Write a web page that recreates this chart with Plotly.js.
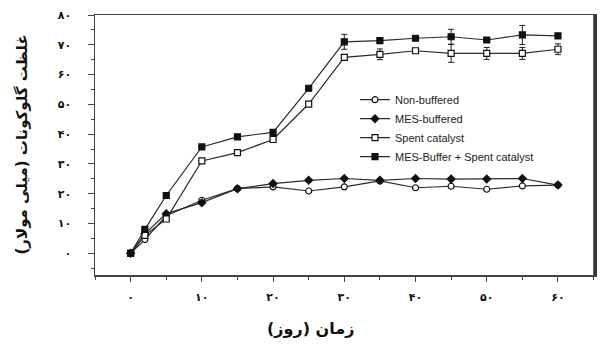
<!DOCTYPE html>
<html>
<head>
<meta charset="utf-8">
<script src="https://cdn.plot.ly/plotly-3.0.1.min.js"></script>
<style>
html,body{margin:0;padding:0;background:#fff;}
#chart{width:601px;height:351px;}
</style>
</head>
<body>
<div id="chart"></div>
<script>
// ---- data ----
const days = [0, 2, 5, 10, 15, 20, 25, 30, 35, 40, 45, 50, 55, 60];
const nonBuffered   = [0, 4.6, 12.6, 17.8, 21.7, 22.3, 20.9, 22.3, 24.3, 22.0, 22.5, 21.5, 22.6, 22.9];
const mesBuffered   = [0, 6.5, 13.3, 17.0, 21.7, 23.4, 24.5, 25.1, 24.5, 25.1, 24.9, 24.9, 25.1, 22.9];
const spentCatalyst = [0, 6.0, 11.5, 31.0, 33.8, 38.2, 50.1, 65.8, 66.8, 68.0, 67.1, 67.1, 67.1, 68.5];
const mesSpent      = [0, 8.0, 19.4, 35.7, 39.1, 40.6, 55.4, 71.0, 71.4, 72.2, 72.7, 71.6, 73.3, 73.0];
const spentErr      = [0, 0, 0, 0, 0, 0, 0, 0.8, 1.8, 0, 3.0, 2.0, 2.0, 1.8];
const mesSpentErr   = [0, 0, 0, 0, 0, 0, 0, 2.5, 0, 0, 2.5, 0, 3.2, 0];

const seriesNames = ["Non-buffered", "MES-buffered", "Spent catalyst", "MES-Buffer + Spent catalyst"];

const xTickVals = [0, 10, 20, 30, 40, 50, 60];
const xTickText = ["۰", "۱۰", "۲۰", "۳۰", "۴۰", "۵۰", "۶۰"];
const yTickVals = [0, 10, 20, 30, 40, 50, 60, 70, 80];
const yTickText = ["۰", "۱۰", "۲۰", "۳۰", "۴۰", "۵۰", "۶۰", "۷۰", "۸۰"];

const xTitle = "زمان (روز)";
const yTitle = "غلظت گلوکونات (میلی مولار)";

// ---- styles ----
const lineCol = "#2a2a2a";
const lineW = 1.2;
function mk(symbol, filled) {
  return {symbol: symbol, size: 6, color: filled ? "#111" : "#fff",
          line: {color: "#111", width: 1.2}};
}

const traces = [
  {x: days, y: nonBuffered, name: seriesNames[0], type: "scatter", mode: "lines+markers",
   line: {color: lineCol, width: lineW}, marker: mk("circle", false)},
  {x: days, y: mesBuffered, name: seriesNames[1], type: "scatter", mode: "lines+markers",
   line: {color: lineCol, width: lineW}, marker: mk("diamond", true)},
  {x: days, y: spentCatalyst, name: seriesNames[2], type: "scatter", mode: "lines+markers",
   line: {color: lineCol, width: lineW}, marker: mk("square", false),
   error_y: {type: "data", array: spentErr, visible: true, color: "#222", thickness: 1, width: 3}},
  {x: days, y: mesSpent, name: seriesNames[3], type: "scatter", mode: "lines+markers",
   line: {color: lineCol, width: lineW}, marker: mk("square", true),
   error_y: {type: "data", array: mesSpentErr, visible: true, color: "#222", thickness: 1, width: 3}}
];

const tickFont = {family: "DejaVu Sans", size: 11, color: "#111", weight: "bold"};

const layout = {
  width: 601, height: 351,
  margin: {l: 95, r: 6, t: 15, b: 76},
  paper_bgcolor: "#fff", plot_bgcolor: "#fff",
  showlegend: true,
  legend: {x: 0.52, y: 0.73, xanchor: "left", yanchor: "top",
           bgcolor: "rgba(0,0,0,0)", borderwidth: 0,
           font: {family: "Liberation Sans, Arial, sans-serif", size: 11, color: "#222"},
           tracegroupgap: 0},
  xaxis: {range: [-5, 65.2], showgrid: false, zeroline: false,
          showline: true, linecolor: "#444", linewidth: 1.5, mirror: true,
          tickmode: "array", tickvals: xTickVals, ticktext: xTickText,
          ticks: "outside", ticklen: 5, tickwidth: 1, tickcolor: "#444",
          tickfont: tickFont, ticklabelstandoff: 6,
          minor: {tickmode: "linear", tick0: 0, dtick: 5, ticks: "outside", ticklen: 3, tickcolor: "#444"}},
  yaxis: {range: [-7.3, 80], showgrid: false, zeroline: false,
          showline: true, linecolor: "#444", linewidth: 1.5, mirror: true,
          tickmode: "array", tickvals: yTickVals, ticktext: yTickText,
          ticks: "outside", ticklen: 6, tickwidth: 1, tickcolor: "#444",
          tickfont: tickFont, ticklabelstandoff: 14,
          minor: {tickmode: "linear", tick0: 0, dtick: 5, ticks: "outside", ticklen: 3, tickcolor: "#444"}},
  shapes: [
    {type: "line", xref: "paper", yref: "paper", x0: 1, x1: 1, y0: 0, y1: 1,
     line: {color: "#333", width: 3.5}}
  ],
  annotations: [
    {text: xTitle, xref: "paper", yref: "paper", x: 0.43, y: -0.205, xanchor: "center", yanchor: "middle",
     showarrow: false, font: {family: "DejaVu Sans", size: 16, color: "#111", weight: "bold"}},
    {text: yTitle, xref: "paper", yref: "paper", x: -0.147, y: 0.5, xanchor: "center", yanchor: "middle",
     textangle: -90, showarrow: false,
     font: {family: "DejaVu Sans", size: 15, color: "#111", weight: "bold"}}
  ]
};

Plotly.newPlot("chart", traces, layout, {staticPlot: true, displayModeBar: false});
</script>
</body>
</html>
